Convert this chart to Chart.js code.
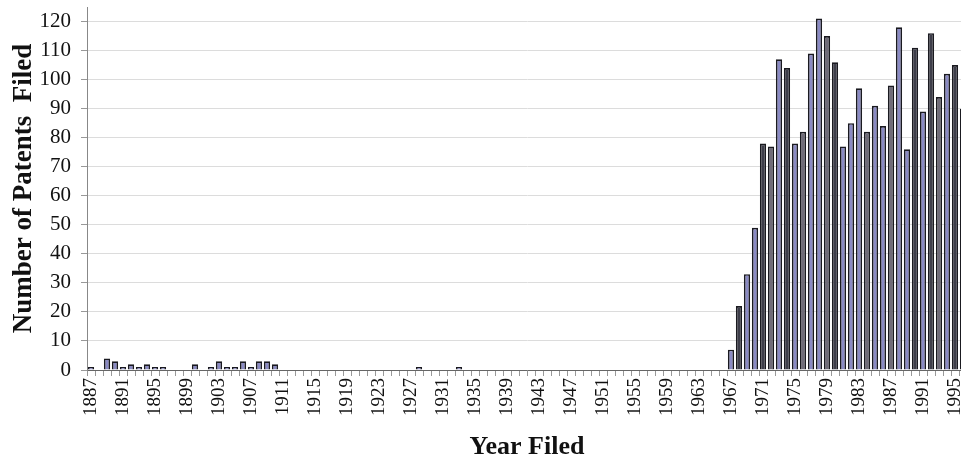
<!DOCTYPE html>
<html>
<head>
<meta charset="utf-8">
<script src="https://cdn.jsdelivr.net/npm/chart.js@4"></script>
<style>
  body { margin: 0; background: #fff; overflow: hidden; }
  #wrap { width: 961px; height: 463px; overflow: hidden; }
</style>
</head>
<body>
<div id="wrap"><canvas id="patentChart" width="967" height="463"></canvas></div>
<script>
// years 1887 .. 1996, one bar per year
const firstYear = 1887;
const lastYear = 1996;

// patents filed per year, 10 per row starting at 1887
const patents = [
  1, 0, 4, 3, 1, 2, 1, 2, 1, 1,        // 1887-1896
  0, 0, 0, 2, 0, 1, 3, 1, 1, 3,        // 1897-1906
  1, 3, 3, 2, 0, 0, 0, 0, 0, 0,        // 1907-1916
  0, 0, 0, 0, 0, 0, 0, 0, 0, 0,        // 1917-1926
  0, 1, 0, 0, 0, 0, 1, 0, 0, 0,        // 1927-1936
  0, 0, 0, 0, 0, 0, 0, 0, 0, 0,        // 1937-1946
  0, 0, 0, 0, 0, 0, 0, 0, 0, 0,        // 1947-1956
  0, 0, 0, 0, 0, 0, 0, 0, 0, 0,        // 1957-1966
  7, 22, 33, 49, 78, 77, 107, 104, 78, 82,   // 1967-1976
  109, 121, 115, 106, 77, 85, 97, 82, 91, 84, // 1977-1986
  98, 118, 76, 111, 89, 116, 94, 102, 105, 90 // 1987-1996
];

// every 4th year gets a tick label
const labelEvery = 4;

// how the scanned bars look from 1967 on (L lavender, D dark, G grey)
const shadeFrom = 1967;
const shades = 'LDLLDGLDLGLLGDLLLGLLGLLDLDGLDD';

const years = [];
for (let y = firstYear; y <= lastYear; y++) years.push(String(y));

const shadeColors = { L: '#8a8ac4', D: '#3e3e4a', G: '#6f6b78' };
const fills = years.map(function(y) {
  const i = Number(y) - shadeFrom;
  if (i < 0) return shadeColors.L;
  return shadeColors[shades[i]] || shadeColors.L;
});

const serif = "'Liberation Serif', 'Times New Roman', serif";

// drop the extra room chart.js keeps for half labels at the ends
function noEdgePadding(scale) {
  scale.paddingTop = 0;
  scale.paddingBottom = 0;
  scale.paddingLeft = 0;
  scale.paddingRight = 0;
}

const ctx = document.getElementById('patentChart');
const chart = new Chart(ctx, {
  type: 'bar',
  data: {
    labels: years,
    datasets: [{
      label: 'Patents Filed',
      data: patents,
      backgroundColor: fills,
      borderColor: '#1a1a20',
      borderWidth: 1.7,
      categoryPercentage: 1,
      barPercentage: 0.78
    }]
  },
  options: {
    responsive: false,
    animation: false,
    layout: { padding: { left: 0, right: 0, top: 7, bottom: 0 } },
    plugins: {
      legend: { display: false },
      tooltip: { enabled: false }
    },
    scales: {
      x: {
        afterFit: function(scale) { scale.height = 93; noEdgePadding(scale); },
        grid: {
          drawOnChartArea: false,
          drawTicks: true,
          tickLength: 6,
          color: '#999'
        },
        border: { color: '#666', width: 1 },
        ticks: {
          autoSkip: false,
          maxRotation: 90,
          minRotation: 90,
          padding: 2,
          color: '#111',
          font: { family: serif, size: 19 },
          callback: function(value, index) {
            return index % labelEvery === 0 ? this.getLabelForValue(value) : '';
          }
        },
        title: {
          display: true,
          text: 'Year Filed',
          color: '#111',
          font: { family: serif, size: 26, weight: 'bold' },
          padding: { top: 0, bottom: 0 }
        }
      },
      y: {
        min: 0,
        max: 125,
        afterFit: function(scale) { scale.width = 87; noEdgePadding(scale); },
        grid: {
          color: function(c) { return c.tick && c.tick.value === 125 ? '#999' : '#dcdcdc'; },
          tickColor: '#999',
          tickLength: 6
        },
        border: { color: '#888', width: 1 },
        ticks: {
          stepSize: 5,
          padding: 10,
          color: '#111',
          font: { family: serif, size: 21 },
          callback: function(value) { return value % 10 === 0 && value <= 120 ? value : ''; }
        },
        title: {
          display: true,
          text: 'Number of Patents  Filed',
          color: '#111',
          font: { family: serif, size: 27, weight: 'bold' },
          padding: { top: 8, bottom: 0 }
        }
      }
    }
  }
});
</script>
</body>
</html>
